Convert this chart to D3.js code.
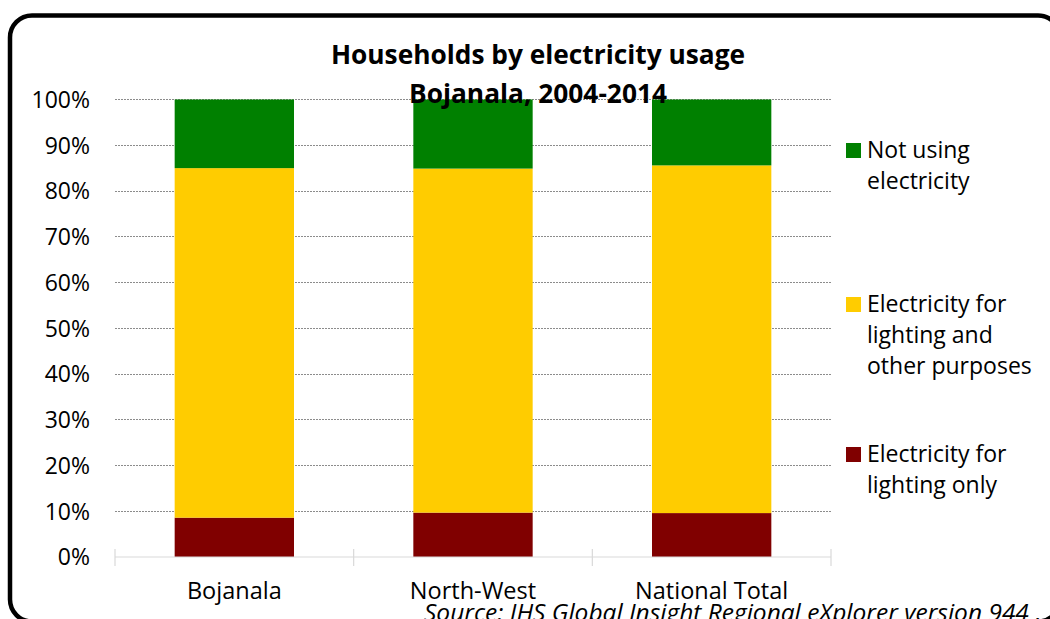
<!DOCTYPE html>
<html>
<head>
<meta charset="utf-8">
<script src="https://cdn.jsdelivr.net/npm/d3@7"></script>
<style>
  html, body { margin: 0; padding: 0; background: #fff; }
  svg { display: block; font-family: "Open Sans", sans-serif; }
</style>
</head>
<body>
<svg id="chart" width="1050" height="619"></svg>
<script>
// Regions shown on the x axis
const categories = ["Bojanala", "North-West", "National Total"];

// Share of households (%) per usage type, stacked bottom to top
const lightingOnly  = [8.6, 9.7, 9.6];
const lightingOther = [76.4, 75.2, 76.0];
const notUsing      = [15.0, 15.1, 14.4];

const seriesNames = ["Electricity for lighting only", "Electricity for lighting and other purposes", "Not using electricity"];
const seriesValues = [lightingOnly, lightingOther, notUsing];
const seriesColors = ["#800000", "#FFCC00", "#008000"];

// Legend labels, wrapped as drawn (top to bottom)
const legendLines = [
  ["Not using", "electricity"],
  ["Electricity for", "lighting and", "other purposes"],
  ["Electricity for", "lighting only"]
];
const legendColors = ["#008000", "#FFCC00", "#800000"];

const yTicks = [0, 10, 20, 30, 40, 50, 60, 70, 80, 90, 100];
const titleLines = ["Households by electricity usage", "Bojanala, 2004-2014"];
const sourceText = "Source: IHS Global Insight Regional eXplorer version 944 ,";

const svg = d3.select("#chart");

// Rounded frame around the whole chart (runs off the right and bottom edges)
svg.append("rect")
  .attr("x", 10).attr("y", 15.5)
  .attr("width", 1050).attr("height", 606)
  .attr("rx", 22).attr("ry", 22)
  .attr("fill", "none").attr("stroke", "#000").attr("stroke-width", 4.5);

const plot = { left: 115, right: 831, top: 99.5, bottom: 557 };

const x = d3.scaleBand()
  .domain(categories)
  .range([plot.left, plot.right])
  .paddingInner(0.5)
  .paddingOuter(0.25);

const y = d3.scaleLinear().domain([0, 100]).range([plot.bottom, plot.top]);

// Dotted gridlines
svg.append("g")
  .selectAll("line")
  .data(yTicks.filter(t => t > 0))
  .join("line")
  .attr("x1", plot.left).attr("x2", plot.right)
  .attr("y1", d => y(d)).attr("y2", d => y(d))
  .attr("stroke", "#8c8c8c").attr("stroke-width", 1)
  .attr("stroke-dasharray", "2,1")
  .attr("shape-rendering", "crispEdges");

// Stacked bars
const rows = categories.map((c, i) => {
  const r = { category: c };
  seriesNames.forEach((s, k) => { r[s] = seriesValues[k][i]; });
  return r;
});
const stacked = d3.stack().keys(seriesNames)(rows);

svg.append("g")
  .selectAll("g")
  .data(stacked)
  .join("g")
  .attr("fill", (d, i) => seriesColors[i])
  .selectAll("rect")
  .data(d => d)
  .join("rect")
  .attr("x", d => x(d.data.category))
  .attr("width", x.bandwidth())
  .attr("y", d => y(d[1]))
  .attr("height", d => y(d[0]) - y(d[1]));

// Category axis: light baseline with crossing tick marks at band boundaries
const xAxisG = svg.append("g");
xAxisG.append("line")
  .attr("x1", plot.left).attr("x2", plot.right)
  .attr("y1", plot.bottom).attr("y2", plot.bottom)
  .attr("stroke", "#d9d9d9").attr("stroke-width", 1.2);
const boundaries = categories.map((c, i) => plot.left + i * x.step());
boundaries.push(plot.right);
xAxisG.selectAll("line.tick")
  .data(boundaries)
  .join("line")
  .attr("class", "tick")
  .attr("x1", d => d).attr("x2", d => d)
  .attr("y1", plot.bottom - 8).attr("y2", plot.bottom + 9)
  .attr("stroke", "#d9d9d9").attr("stroke-width", 1.2);
xAxisG.selectAll("text")
  .data(categories)
  .join("text")
  .attr("x", d => x(d) + x.bandwidth() / 2)
  .attr("y", 599)
  .attr("text-anchor", "middle")
  .attr("font-size", 23.5)
  .attr("fill", "#000")
  .text(d => d);

// Value axis labels
const yAxis = d3.axisLeft(y).tickValues(yTicks).tickSize(0).tickPadding(0)
  .tickFormat(d => d + "%");
const yAxisG = svg.append("g")
  .attr("transform", "translate(90,0)")
  .call(yAxis);
yAxisG.select(".domain").remove();
yAxisG.selectAll("text")
  .attr("font-family", "Open Sans, sans-serif")
  .attr("font-size", 23)
  .attr("fill", "#000")
  .attr("dy", "0.34em");

// Title
svg.append("g")
  .selectAll("text")
  .data(titleLines)
  .join("text")
  .attr("x", 538)
  .attr("y", (d, i) => 64 + i * 39)
  .attr("text-anchor", "middle")
  .attr("font-size", 26.3)
  .attr("font-weight", "bold")
  .attr("fill", "#000")
  .text(d => d);

// Legend
const legendTop = [158, 312, 462];
const legend = svg.append("g");
legendLines.forEach((lines, i) => {
  legend.append("rect")
    .attr("x", 846).attr("y", legendTop[i] - 15)
    .attr("width", 15).attr("height", 15)
    .attr("fill", legendColors[i]);
  legend.append("g")
    .selectAll("text")
    .data(lines)
    .join("text")
    .attr("x", 867)
    .attr("y", (d, j) => legendTop[i] + j * 31)
    .attr("font-size", 23)
    .attr("fill", "#000")
    .text(d => d);
});

// Source note
svg.append("text")
  .attr("x", 424).attr("y", 621)
  .attr("font-size", 24.5)
  .attr("font-style", "italic")
  .attr("fill", "#000")
  .text(sourceText);
</script>
</body>
</html>
